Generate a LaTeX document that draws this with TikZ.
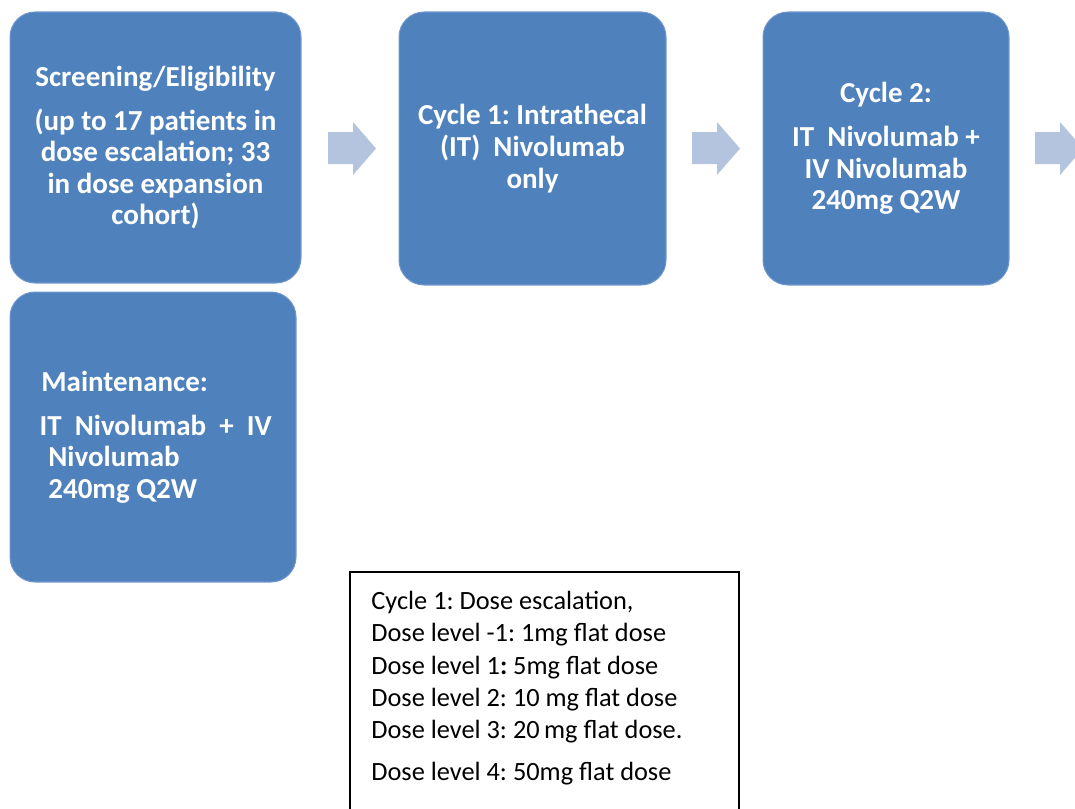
\documentclass[tikz,border=0pt]{standalone}
\usepackage{fontspec}
\setmainfont{Carlito}
\usepackage{xcolor}
\usetikzlibrary{positioning}
\definecolor{stageblue}{RGB}{79,129,189}
\definecolor{stageedge}{RGB}{110,150,205}
\definecolor{flowarrow}{RGB}{180,196,223}
\frenchspacing

\begin{document}
\begin{tikzpicture}[
    x=0.02cm, y=-0.02cm,
    stage/.style n args={2}{rectangle, draw=stageedge, line width=0.6pt, fill=stageblue,
                rounded corners=0.5cm, minimum width=#1, minimum height=#2,
                text=white, align=center, inner sep=0pt,
                font=\fontsize{16.5}{18}\selectfont\bfseries},
    flow/.style={fill=flowarrow},
    legend/.style={rectangle, draw=black, line width=1pt, minimum width=7.78cm,
                minimum height=4.9cm, anchor=north west}
]
    \useasboundingbox (0,0) rectangle (1075,808);

    % Screening
    \node[stage={5.82cm}{5.42cm}] (screen) at (155.5,147.5) {
        Screening/Eligibility\\[7pt]
        (up to 17 patients in\\
        dose escalation; 33\\
        in dose expansion\\
        cohort)
    };

    % Cycle 1
    \node[stage={5.34cm}{5.46cm}] (cycleone) at (532.5,148.5) {
        Cycle 1: Intrathecal\\
        (IT)~ Nivolumab\\
        only
    };

    % Cycle 2
    \node[stage={4.92cm}{5.46cm}] (cycletwo) at (886,148.5) {
        Cycle 2:\\[7pt]
        IT~ Nivolumab +\\
        IV Nivolumab\\
        240mg Q2W
    };

    % Maintenance
    \node[stage={5.72cm}{5.8cm}, align=left] (maint) at (153,437) {
        \hspace{4pt}Maintenance:\\[7pt]
        \hspace{3pt}IT~ Nivolumab~ + ~IV\\
        \hspace{8pt}Nivolumab\\
        \hspace{8pt}240mg Q2W
    };

    % block arrows between stages
    \foreach \x in {328,692,1035} {
        \fill[flow] (\x,132) -- (\x+25,132) -- (\x+25,122) -- (\x+48,148.5)
            -- (\x+25,175) -- (\x+25,164) -- (\x,164) -- cycle;
    }

    % dose levels
    \node[legend] (doses) at (349,571) {};
    \node[anchor=north west, align=left, inner sep=0pt,
          font=\fontsize{15}{18.4}\selectfont] (doselist) at (371,591) {
        Cycle 1: Dose escalation,\\
        Dose level -1: 1mg flat dose\\
        Dose level 1\textbf{:} 5mg flat dose\\
        Dose level 2: 10 mg flat dose\\
        Dose level 3: 20\,mg flat dose.\\[5pt]
        Dose level 4: 50mg flat dose
    };
\end{tikzpicture}
\end{document}
